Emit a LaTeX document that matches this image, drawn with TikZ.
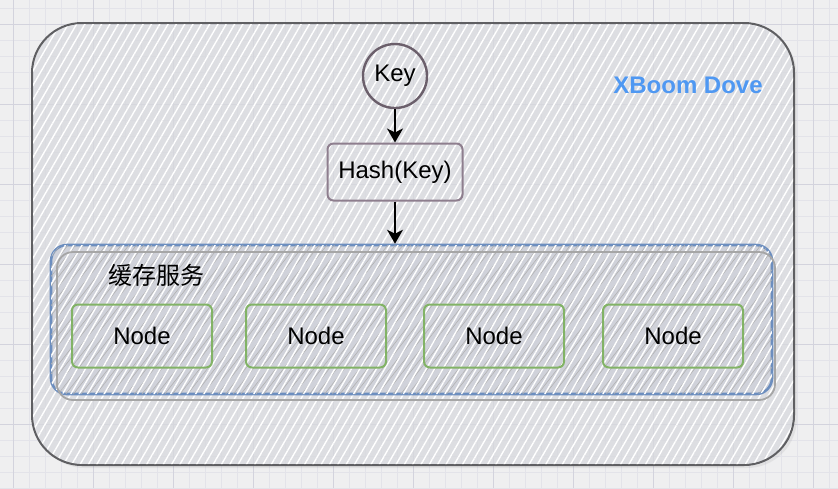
\documentclass[tikz,border=0pt]{standalone}
\usepackage{fontspec}
\setmainfont{Liberation Sans}
\newfontfamily\cjkfont{Noto Sans CJK SC}
\usetikzlibrary{arrows.meta,patterns.meta,shadows}

\definecolor{paper}{HTML}{EFEFF0}
\definecolor{gridminor}{HTML}{E3E3E9}
\definecolor{gridmajor}{HTML}{D3D3DD}
\definecolor{boxgray}{HTML}{DCDDE2}
\definecolor{svcgray}{HTML}{D0D2DA}
\definecolor{outline}{HTML}{5F5F62}
\definecolor{keyline}{HTML}{6B5F6B}
\definecolor{hashline}{HTML}{8E7E8E}
\definecolor{svcblue}{HTML}{6C8EBF}
\definecolor{nodegreen}{HTML}{82B366}
\definecolor{titleblue}{HTML}{4F98F2}

\begin{document}
\begin{tikzpicture}[x=0.5pt, y=-0.5pt, line width=0.75pt,
    font=\fontsize{12}{14}\selectfont,
    whitehatch/.style={pattern={Lines[angle=60, distance=3.6pt, line width=0.7pt]}, pattern color=white},
    darkhatch/.style={pattern={Lines[angle=52, distance=3pt, line width=0.3pt]}, pattern color=black!30},
    keycircle/.style={circle, draw=keyline, line width=1.2pt, minimum size=32pt, inner sep=0pt},
    hashbox/.style={draw=hashline, line width=1pt, rounded corners=3pt, minimum width=67.5pt, minimum height=28.5pt},
    svcbox/.style={draw=svcblue, line width=1.3pt, rounded corners=8pt, minimum width=360.5pt, minimum height=74.5pt},
    cachenode/.style={draw=nodegreen, line width=1pt, rounded corners=3pt, minimum width=70pt, minimum height=31.5pt},
    flow/.style={-{Stealth[length=7pt, width=8pt, inset=2pt]}, line width=0.8pt, black}]
    \useasboundingbox (0,0) rectangle (838,488);

    % draw paper and grid
    \fill[paper] (0,0) rectangle (838,488);
    \foreach \gx in {-3,13,...,845}
        \draw[gridminor, line width=0.4pt] (\gx,0) -- (\gx,488);
    \foreach \gy in {8,24,...,488}
        \draw[gridminor, line width=0.4pt] (0,\gy) -- (838,\gy);
    \foreach \gx in {13,93,...,813}
        \draw[gridmajor, line width=0.5pt] (\gx,0) -- (\gx,488);
    \foreach \gy in {24,104,...,424}
        \draw[gridmajor, line width=0.5pt] (0,\gy) -- (838,\gy);

    % draw outer hatched box
    \filldraw[draw=outline, line width=1pt, fill=boxgray, fill opacity=0.75, rounded corners=25pt,
        drop shadow={opacity=0.12, shadow xshift=1.5pt, shadow yshift=-1.5pt}]
        (32,23) rectangle (794,465);
    \fill[whitehatch, rounded corners=25pt] (33,24) rectangle (793,464);
    \node[font=\bfseries\fontsize{12}{14}\selectfont, text=titleblue] (title) at (688,85) {XBoom Dove};

    % draw key and hash
    \node[keycircle] (key) at (395,76) {Key};
    \node[hashbox] (hash) at (395,172) {Hash(Key)};

    % draw cache service box
    \node[svcbox, fill=svcgray, postaction={darkhatch}, postaction={whitehatch}] (svc) at (411.5,319.5) {};
    \draw[black!35, line width=0.9pt, rounded corners=8pt] (57,252) rectangle (775,400);
    \node[anchor=west, font=\cjkfont\fontsize{12}{14}\selectfont] (svclabel) at (101,275) {缓存服务};

    % draw cache nodes
    \node[cachenode] (n1) at (142,336) {Node};
    \node[cachenode] (n2) at (316,336) {Node};
    \node[cachenode] (n3) at (494,336) {Node};
    \node[cachenode] (n4) at (673,336) {Node};

    % draw arrows
    \draw[flow] (key.south) -- (key.south |- hash.north);
    \draw[flow] (hash.south) -- (hash.south |- svc.north);
\end{tikzpicture}
\end{document}
